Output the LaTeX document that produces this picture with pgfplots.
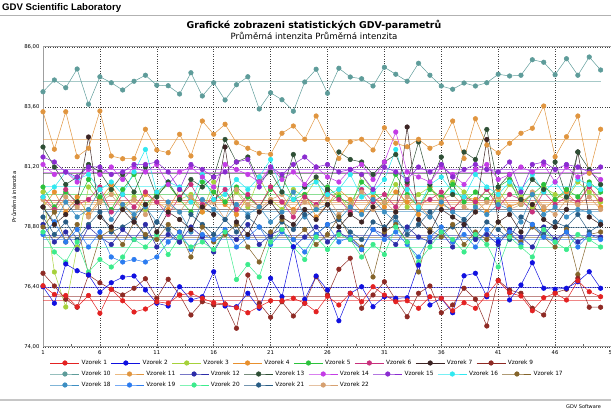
\documentclass[border=0pt]{standalone}
\usepackage{fontspec}
\setmainfont{DejaVu Sans}
\newfontfamily\hdrfont{Liberation Sans}
\usepackage{pgfplots}
\usepackage{pgfplotstable}
\pgfplotsset{compat=1.18}

\definecolor{c1}{HTML}{E32222}
\definecolor{c2}{HTML}{1010E0}
\definecolor{c3}{HTML}{A6D13A}
\definecolor{c4}{HTML}{E8902E}
\definecolor{c5}{HTML}{2CC23C}
\definecolor{c6}{HTML}{C8307C}
\definecolor{c7}{HTML}{3C2424}
\definecolor{c9}{HTML}{8E2A24}
\definecolor{c10}{HTML}{5E9C9A}
\definecolor{c11}{HTML}{E0953F}
\definecolor{c12}{HTML}{2C2CA8}
\definecolor{c13}{HTML}{2E4F35}
\definecolor{c14}{HTML}{C43CE6}
\definecolor{c15}{HTML}{8A2CD0}
\definecolor{c16}{HTML}{30E8F0}
\definecolor{c17}{HTML}{84642A}
\definecolor{c18}{HTML}{3C8EC2}
\definecolor{c19}{HTML}{2C7CF0}
\definecolor{c20}{HTML}{3CEB8C}
\definecolor{c21}{HTML}{285C84}
\definecolor{c22}{HTML}{D6A070}

\pgfplotstableread[row sep=\\]{76.45\\76.10\\76.06\\75.61\\76.06\\75.35\\76.31\\75.85\\75.40\\75.52\\75.81\\75.75\\76.08\\76.15\\75.95\\75.77\\75.72\\75.57\\75.37\\75.61\\75.85\\75.85\\75.95\\75.75\\75.41\\76.03\\75.68\\76.15\\75.81\\76.41\\76.08\\75.81\\75.85\\75.55\\76.01\\75.95\\75.45\\75.77\\75.55\\76.08\\76.65\\76.17\\76.04\\75.45\\75.97\\76.15\\75.88\\76.65\\76.21\\76.01\\}\dA
\pgfplotstableread[row sep=\\]{76.41\\75.75\\77.32\\77.05\\76.88\\76.19\\76.57\\76.79\\76.84\\76.28\\75.75\\75.64\\76.41\\75.88\\76.01\\77.01\\75.64\\75.61\\76.15\\75.55\\76.75\\76.01\\78.01\\75.91\\76.84\\76.28\\75.05\\76.15\\76.41\\75.61\\76.01\\75.95\\75.97\\77.28\\75.68\\75.95\\75.37\\76.85\\76.95\\76.01\\78.21\\75.88\\76.48\\77.37\\76.35\\76.31\\76.35\\76.61\\77.01\\76.35\\}\dB
\pgfplotstableread[row sep=\\]{80.2\\77.0\\75.6\\78.0\\80.4\\79.8\\80.3\\79.6\\80.0\\79.5\\80.2\\80.5\\79.9\\80.1\\79.4\\80.6\\79.8\\80.2\\79.6\\80.8\\79.9\\79.5\\80.3\\80.0\\80.7\\79.7\\80.1\\79.4\\80.9\\80.2\\79.8\\80.5\\79.6\\80.1\\80.4\\79.9\\80.6\\80.2\\79.7\\80.3\\79.8\\80.5\\80.0\\79.6\\80.4\\80.1\\79.9\\80.6\\80.2\\79.8\\}\dC
\pgfplotstableread[row sep=\\]{79.6\\80.2\\79.4\\80.0\\79.3\\79.9\\80.5\\79.7\\79.2\\80.1\\79.8\\79.5\\80.3\\79.9\\79.4\\80.2\\79.7\\79.3\\80.0\\79.6\\80.4\\79.8\\79.5\\80.1\\79.2\\79.7\\80.3\\79.9\\79.4\\80.0\\79.6\\80.2\\79.8\\79.3\\80.4\\79.7\\79.5\\80.0\\79.9\\79.4\\80.3\\79.6\\79.8\\80.1\\79.5\\79.9\\80.2\\79.7\\80.5\\79.6\\}\dD
\pgfplotstableread[row sep=\\]{80.4\\79.6\\80.2\\79.8\\80.7\\80.0\\79.5\\80.3\\80.9\\79.7\\80.1\\80.5\\79.9\\79.4\\80.6\\80.2\\79.8\\80.4\\80.0\\79.6\\80.3\\80.8\\79.9\\80.1\\79.5\\80.4\\80.0\\79.7\\80.6\\80.2\\79.8\\80.9\\80.1\\79.6\\80.3\\80.0\\80.5\\79.8\\80.2\\79.9\\80.4\\80.7\\79.7\\80.1\\80.5\\79.9\\80.3\\80.0\\80.6\\80.2\\}\dE
\pgfplotstableread[row sep=\\]{80.0\\79.5\\80.3\\79.7\\79.9\\80.4\\79.4\\80.1\\79.6\\80.2\\79.8\\79.3\\80.0\\80.5\\79.7\\79.9\\80.3\\79.5\\80.1\\79.6\\80.4\\79.8\\79.2\\80.0\\79.7\\80.2\\79.9\\79.4\\80.3\\79.8\\80.1\\79.6\\80.5\\79.7\\79.9\\80.2\\79.5\\80.0\\79.8\\80.3\\79.6\\80.1\\79.9\\79.4\\80.2\\79.7\\80.0\\79.8\\80.4\\79.9\\}\dF
\pgfplotstableread[row sep=\\]{79.6\\78.9\\79.3\\79.8\\82.4\\79.2\\78.8\\79.5\\79.0\\79.7\\78.6\\79.4\\79.1\\78.7\\79.6\\79.3\\82.0\\79.0\\78.5\\79.4\\79.8\\79.2\\78.9\\79.5\\79.1\\79.7\\78.8\\79.3\\79.0\\79.6\\78.7\\79.4\\82.8\\79.1\\78.6\\79.5\\79.2\\78.9\\79.4\\82.3\\79.0\\79.3\\78.6\\79.7\\79.1\\78.8\\79.5\\81.8\\79.2\\78.9\\}\dG
\pgfplotstableread[row sep=\\]{76.95\\76.44\\75.91\\75.59\\76.88\\76.57\\76.31\\76.08\\76.35\\76.73\\75.95\\76.71\\76.08\\75.28\\75.81\\75.68\\75.72\\74.75\\76.88\\75.75\\75.19\\75.81\\75.24\\75.75\\76.81\\76.08\\77.11\\77.55\\75.55\\76.08\\76.61\\75.88\\75.21\\76.15\\76.44\\75.37\\75.68\\76.35\\75.91\\74.84\\76.67\\76.28\\76.15\\75.55\\75.28\\76.17\\76.31\\76.75\\75.59\\75.59\\}\dI
\pgfplotstableread[row sep=\\]{84.21\\84.68\\84.37\\85.12\\83.71\\84.81\\84.57\\84.28\\84.63\\84.87\\84.47\\84.45\\84.12\\84.97\\84.04\\84.57\\83.88\\84.49\\84.81\\83.52\\84.17\\83.89\\83.43\\84.60\\85.11\\84.15\\85.15\\84.80\\84.73\\84.44\\85.19\\84.91\\84.63\\85.35\\84.87\\84.44\\84.31\\84.56\\84.44\\84.57\\84.91\\84.84\\84.87\\85.49\\85.39\\84.89\\85.53\\84.87\\85.60\\85.08\\}\dJ
\pgfplotstableread[row sep=\\]{83.41\\81.91\\83.41\\81.61\\81.95\\83.44\\81.64\\81.53\\81.54\\82.71\\81.88\\81.77\\82.51\\81.64\\83.04\\82.51\\82.91\\82.17\\81.95\\81.75\\81.71\\82.55\\82.84\\82.31\\83.24\\82.31\\81.54\\82.21\\82.31\\81.88\\82.77\\82.15\\82.01\\82.31\\81.95\\82.15\\83.04\\81.54\\83.13\\82.08\\81.77\\82.15\\82.55\\82.75\\83.64\\81.61\\82.41\\83.24\\80.95\\82.71\\}\dK
\pgfplotstableread[row sep=\\]{78.9\\78.2\\78.6\\77.9\\78.8\\78.4\\78.1\\78.7\\78.3\\78.9\\78.0\\78.5\\78.2\\78.8\\78.4\\77.8\\78.6\\78.3\\78.9\\78.1\\78.5\\78.7\\78.0\\78.4\\78.8\\78.2\\78.6\\78.3\\77.9\\78.7\\78.5\\78.1\\78.8\\78.4\\78.2\\78.6\\78.0\\78.9\\78.3\\78.5\\78.1\\78.7\\78.4\\78.0\\78.8\\78.3\\78.6\\78.2\\78.5\\78.4\\}\dL
\pgfplotstableread[row sep=\\]{82.0\\81.2\\80.5\\80.8\\81.3\\81.0\\80.3\\80.9\\80.2\\81.2\\80.0\\80.6\\79.9\\80.7\\80.4\\80.8\\82.3\\81.4\\81.6\\80.6\\81.0\\80.2\\81.7\\80.4\\80.8\\80.3\\81.8\\81.5\\81.4\\80.9\\81.4\\81.7\\80.6\\82.2\\80.5\\81.6\\80.1\\81.8\\81.5\\82.7\\80.4\\80.9\\79.9\\80.7\\80.3\\81.4\\80.0\\81.8\\81.1\\80.5\\}\dM
\pgfplotstableread[row sep=\\]{81.3\\80.9\\81.0\\80.6\\81.1\\80.9\\81.2\\80.7\\81.2\\81.0\\81.3\\80.5\\81.0\\81.2\\80.8\\80.4\\81.3\\81.1\\80.9\\80.6\\81.2\\80.7\\81.0\\80.5\\81.2\\80.8\\80.6\\81.1\\81.3\\80.7\\81.4\\82.6\\81.0\\80.8\\80.6\\81.2\\80.9\\80.5\\81.1\\81.3\\80.7\\80.9\\81.2\\81.0\\81.3\\80.6\\81.2\\80.8\\81.0\\80.7\\}\dN
\pgfplotstableread[row sep=\\]{81.6\\81.4\\81.0\\80.8\\81.2\\81.2\\80.9\\81.0\\81.3\\81.3\\81.4\\81.0\\80.3\\81.3\\81.1\\80.8\\81.0\\81.4\\81.5\\80.4\\81.2\\80.9\\81.3\\81.6\\81.2\\81.3\\81.0\\81.1\\80.9\\80.3\\81.2\\81.0\\80.7\\81.2\\81.0\\81.3\\80.8\\81.1\\81.3\\81.1\\81.0\\81.4\\80.2\\81.3\\81.4\\81.1\\81.3\\81.2\\81.0\\81.2\\}\dO
\pgfplotstableread[row sep=\\]{80.0\\80.4\\81.0\\80.7\\80.9\\80.3\\80.6\\80.1\\81.0\\81.9\\80.2\\80.6\\80.4\\79.8\\80.9\\79.9\\80.1\\80.7\\80.3\\80.8\\81.5\\80.2\\79.9\\80.4\\80.6\\80.1\\80.3\\80.9\\80.0\\80.2\\80.7\\81.9\\80.3\\79.6\\80.5\\80.8\\80.2\\80.0\\80.9\\80.4\\80.1\\80.6\\80.3\\80.9\\80.2\\80.6\\80.0\\80.7\\80.5\\80.3\\}\dP
\pgfplotstableread[row sep=\\]{78.8\\79.4\\78.2\\78.9\\76.9\\78.4\\78.7\\78.1\\79.0\\78.5\\78.3\\78.9\\78.6\\77.6\\78.8\\78.2\\78.5\\78.9\\78.0\\77.4\\78.6\\79.1\\78.3\\78.7\\78.1\\78.5\\79.2\\78.4\\78.0\\76.8\\78.6\\78.9\\78.2\\77.0\\78.7\\78.4\\78.9\\78.1\\78.6\\78.3\\79.0\\78.5\\78.2\\78.8\\78.4\\78.0\\78.7\\76.9\\78.5\\78.6\\}\dQ
\pgfplotstableread[row sep=\\]{79.6\\79.0\\79.8\\79.2\\79.5\\80.3\\79.1\\79.7\\79.3\\79.6\\79.0\\79.8\\79.4\\78.6\\79.9\\79.5\\79.1\\79.7\\79.3\\79.6\\79.0\\79.4\\80.2\\79.2\\79.5\\79.7\\79.1\\79.6\\79.3\\79.9\\79.4\\79.0\\78.7\\79.5\\79.2\\79.8\\79.4\\79.1\\79.6\\79.3\\79.7\\79.5\\79.0\\80.1\\79.3\\79.6\\79.2\\79.5\\79.4\\79.0\\}\dR
\pgfplotstableread[row sep=\\]{78.5\\79.0\\78.2\\78.7\\78.0\\78.6\\77.6\\77.4\\77.5\\77.4\\77.6\\78.2\\78.6\\77.9\\78.5\\78.3\\78.7\\78.0\\78.4\\78.8\\78.1\\78.6\\78.3\\77.8\\78.5\\78.9\\78.2\\78.4\\77.9\\78.7\\78.3\\78.6\\78.1\\77.6\\78.4\\78.8\\78.2\\78.5\\78.0\\78.7\\78.3\\78.6\\78.1\\78.9\\78.4\\78.2\\78.6\\78.0\\78.5\\78.3\\}\dS
\pgfplotstableread[row sep=\\]{78.6\\77.8\\77.4\\78.2\\77.0\\77.5\\77.2\\77.6\\78.3\\78.0\\78.5\\77.7\\78.4\\78.0\\78.2\\77.9\\78.6\\76.7\\77.3\\76.8\\78.2\\78.7\\78.0\\77.5\\78.4\\77.9\\78.5\\78.3\\77.6\\78.1\\77.7\\78.8\\78.2\\77.4\\78.0\\78.6\\78.3\\77.8\\78.5\\78.1\\77.2\\78.4\\78.0\\77.6\\78.7\\78.2\\77.9\\78.5\\78.3\\78.0\\}\dT
\pgfplotstableread[row sep=\\]{79.2\\78.5\\79.0\\78.3\\78.9\\79.4\\78.6\\78.8\\79.1\\78.4\\79.0\\78.7\\78.2\\79.3\\78.9\\78.5\\79.1\\78.6\\79.2\\78.8\\78.4\\79.0\\78.7\\79.3\\78.5\\78.9\\79.1\\78.6\\78.3\\79.0\\78.8\\79.2\\78.5\\78.9\\79.4\\78.6\\78.8\\79.1\\78.4\\79.0\\78.7\\78.3\\79.2\\78.9\\78.5\\79.0\\78.8\\79.3\\78.6\\78.9\\}\dU
\pgfplotstableread[row sep=\\]{79.9\\79.4\\80.0\\79.6\\79.2\\79.8\\80.1\\79.5\\79.9\\79.3\\80.2\\79.7\\79.4\\80.0\\79.6\\79.8\\79.1\\80.3\\79.7\\79.5\\79.9\\80.1\\79.4\\79.8\\79.6\\80.0\\79.3\\79.7\\80.2\\79.5\\79.8\\79.4\\80.0\\79.7\\79.2\\79.9\\80.1\\79.6\\79.4\\79.8\\80.0\\79.5\\79.7\\80.2\\79.6\\79.3\\79.9\\79.7\\80.0\\79.5\\}\dV

\pgfplotsset{
  ser/.style={color=#1, mark=*, mark size=2.3pt, line width=0.5pt, mark options={solid}},
  mline/.style={color=#1, line width=0.8pt, opacity=0.55, forget plot},
  box/.style={at={(43pt,65pt)}, anchor=south west, scale only axis, width=569pt, height=300pt},
  legrow/.style={box, hide axis, xmin=0, xmax=1, ymin=0, ymax=1,
    legend image code/.code={\draw[mark repeat=2,mark phase=2,##1] plot coordinates {(0pt,0pt) (14.5pt,0pt) (29pt,0pt)};},
    legend columns=-1,
    legend style={at={(axis description cs:0.0123,#1)}, anchor=west, draw=none, fill=none, inner sep=0pt,
      font=\fontsize{5.8}{6.5}\selectfont, /tikz/every even column/.append style={column sep=2.1pt}}},
}

\begin{document}
\begin{tikzpicture}
\node[anchor=west, font=\hdrfont\bfseries\fontsize{9.6}{11}\selectfont, inner sep=0pt] at (2pt,404pt) {GDV Scientific Laboratory};
\draw[gray!60, line width=0.7pt] (0pt,397pt) -- (611pt,397pt);
\node[font=\bfseries\fontsize{9.4}{11}\selectfont, inner sep=0pt] at (314pt,387pt) {Grafické zobrazeni statistických GDV-parametrů};
\node[font=\fontsize{8.6}{10}\selectfont, inner sep=0pt] at (314pt,376pt) {Průměrná intenzita Průměrná intenzita};
\draw[gray!45, line width=2pt] (0pt,12pt) -- (611pt,12pt);
\node[anchor=west, font=\fontsize{5}{6}\selectfont, inner sep=0pt] at (566pt,5pt) {GDV Software};

\begin{axis}[
  box,
  xmin=1, xmax=51, ymin=74, ymax=86,
  xtick={1,6,...,51}, ytick={74,76.4,78.8,81.2,83.6,86},
  minor xtick={3.5,8.5,...,48.5},
  grid=major, major grid style={dotted, black!75, line width=0.5pt},
  axis line style={gray!75, line width=1pt},
  tick style={black!60, line width=0.5pt},
  tick align=inside, major tick length=3pt, minor tick length=3pt,
  xtick pos=left, ytick pos=left,
  ytick style={draw=none},
  /pgf/number format/assume math mode=true,
  tick label style={font=\fontsize{5.3}{6}\selectfont},
  y tick label style={/pgf/number format/.cd, fixed, fixed zerofill, precision=2, use comma},
  ylabel={Průměrná intenzita},
  every axis y label/.style={at={(axis description cs:-0.051,0.5)}, rotate=90, anchor=center, font=\fontsize{5.3}{6}\selectfont},
]
\addplot[mline=c1] coordinates {(1,75.87) (50,75.87)};
\addplot[mline=c2] coordinates {(1,76.38) (50,76.38)};
\addplot[mline=c3] coordinates {(1,79.85) (50,79.85)};
\addplot[mline=c4] coordinates {(1,79.78) (50,79.78)};
\addplot[mline=c5] coordinates {(1,80.1) (50,80.1)};
\addplot[mline=c6] coordinates {(1,79.88) (50,79.88)};
\addplot[mline=c7] coordinates {(1,79.5) (50,79.5)};
\addplot[mline=c9] coordinates {(1,76.02) (50,76.02)};
\addplot[mline=c10] coordinates {(1,84.61) (50,84.61)};
\addplot[mline=c11] coordinates {(1,82.31) (50,82.31)};
\addplot[mline=c12] coordinates {(1,78.45) (50,78.45)};
\addplot[mline=c13] coordinates {(1,80.95) (50,80.95)};
\addplot[mline=c14] coordinates {(1,81.0) (50,81.0)};
\addplot[mline=c15] coordinates {(1,81.12) (50,81.12)};
\addplot[mline=c16] coordinates {(1,80.42) (50,80.42)};
\addplot[mline=c17] coordinates {(1,78.4) (50,78.4)};
\addplot[mline=c18] coordinates {(1,79.42) (50,79.42)};
\addplot[mline=c19] coordinates {(1,78.32) (50,78.32)};
\addplot[mline=c20] coordinates {(1,77.98) (50,77.98)};
\addplot[mline=c21] coordinates {(1,78.8) (50,78.8)};
\addplot[mline=c22] coordinates {(1,79.7) (50,79.7)};

\addplot[ser=c3] table[x expr=\coordindex+1, y index=0] {\dC};
\addplot[ser=c4] table[x expr=\coordindex+1, y index=0] {\dD};
\addplot[ser=c5] table[x expr=\coordindex+1, y index=0] {\dE};
\addplot[ser=c6] table[x expr=\coordindex+1, y index=0] {\dF};
\addplot[ser=c22] table[x expr=\coordindex+1, y index=0] {\dV};
\addplot[ser=c18] table[x expr=\coordindex+1, y index=0] {\dR};
\addplot[ser=c21] table[x expr=\coordindex+1, y index=0] {\dU};
\addplot[ser=c12] table[x expr=\coordindex+1, y index=0] {\dL};
\addplot[ser=c17] table[x expr=\coordindex+1, y index=0] {\dQ};
\addplot[ser=c19] table[x expr=\coordindex+1, y index=0] {\dS};
\addplot[ser=c20] table[x expr=\coordindex+1, y index=0] {\dT};
\addplot[ser=c16] table[x expr=\coordindex+1, y index=0] {\dP};
\addplot[ser=c7] table[x expr=\coordindex+1, y index=0] {\dG};
\addplot[ser=c13] table[x expr=\coordindex+1, y index=0] {\dM};
\addplot[ser=c14] table[x expr=\coordindex+1, y index=0] {\dN};
\addplot[ser=c15] table[x expr=\coordindex+1, y index=0] {\dO};
\addplot[ser=c11] table[x expr=\coordindex+1, y index=0] {\dK};
\addplot[ser=c10] table[x expr=\coordindex+1, y index=0] {\dJ};
\addplot[ser=c9] table[x expr=\coordindex+1, y index=0] {\dI};
\addplot[ser=c2] table[x expr=\coordindex+1, y index=0] {\dB};
\addplot[ser=c1] table[x expr=\coordindex+1, y index=0] {\dA};
\end{axis}

% legend row 1
\begin{axis}[legrow=-0.0533]
\addlegendimage{ser=c1}\addlegendentry{Vzorek 1}
\addlegendimage{ser=c2}\addlegendentry{Vzorek 2}
\addlegendimage{ser=c3}\addlegendentry{Vzorek 3}
\addlegendimage{ser=c4}\addlegendentry{Vzorek 4}
\addlegendimage{ser=c5}\addlegendentry{Vzorek 5}
\addlegendimage{ser=c6}\addlegendentry{Vzorek 6}
\addlegendimage{ser=c7}\addlegendentry{Vzorek 7}
\addlegendimage{ser=c9}\addlegendentry{Vzorek 9}
\end{axis}

% legend row 2
\begin{axis}[legrow=-0.09]
\addlegendimage{ser=c10}\addlegendentry{Vzorek 10}
\addlegendimage{ser=c11}\addlegendentry{Vzorek 11}
\addlegendimage{ser=c12}\addlegendentry{Vzorek 12}
\addlegendimage{ser=c13}\addlegendentry{Vzorek 13}
\addlegendimage{ser=c14}\addlegendentry{Vzorek 14}
\addlegendimage{ser=c15}\addlegendentry{Vzorek 15}
\addlegendimage{ser=c16}\addlegendentry{Vzorek 16}
\addlegendimage{ser=c17}\addlegendentry{Vzorek 17}
\end{axis}

% legend row 3
\begin{axis}[legrow=-0.1267]
\addlegendimage{ser=c18}\addlegendentry{Vzorek 18}
\addlegendimage{ser=c19}\addlegendentry{Vzorek 19}
\addlegendimage{ser=c20}\addlegendentry{Vzorek 20}
\addlegendimage{ser=c21}\addlegendentry{Vzorek 21}
\addlegendimage{ser=c22}\addlegendentry{Vzorek 22}
\end{axis}

\pgfresetboundingbox
\path[use as bounding box] (0pt,0pt) rectangle (611pt,412pt);
\end{tikzpicture}
\end{document}
